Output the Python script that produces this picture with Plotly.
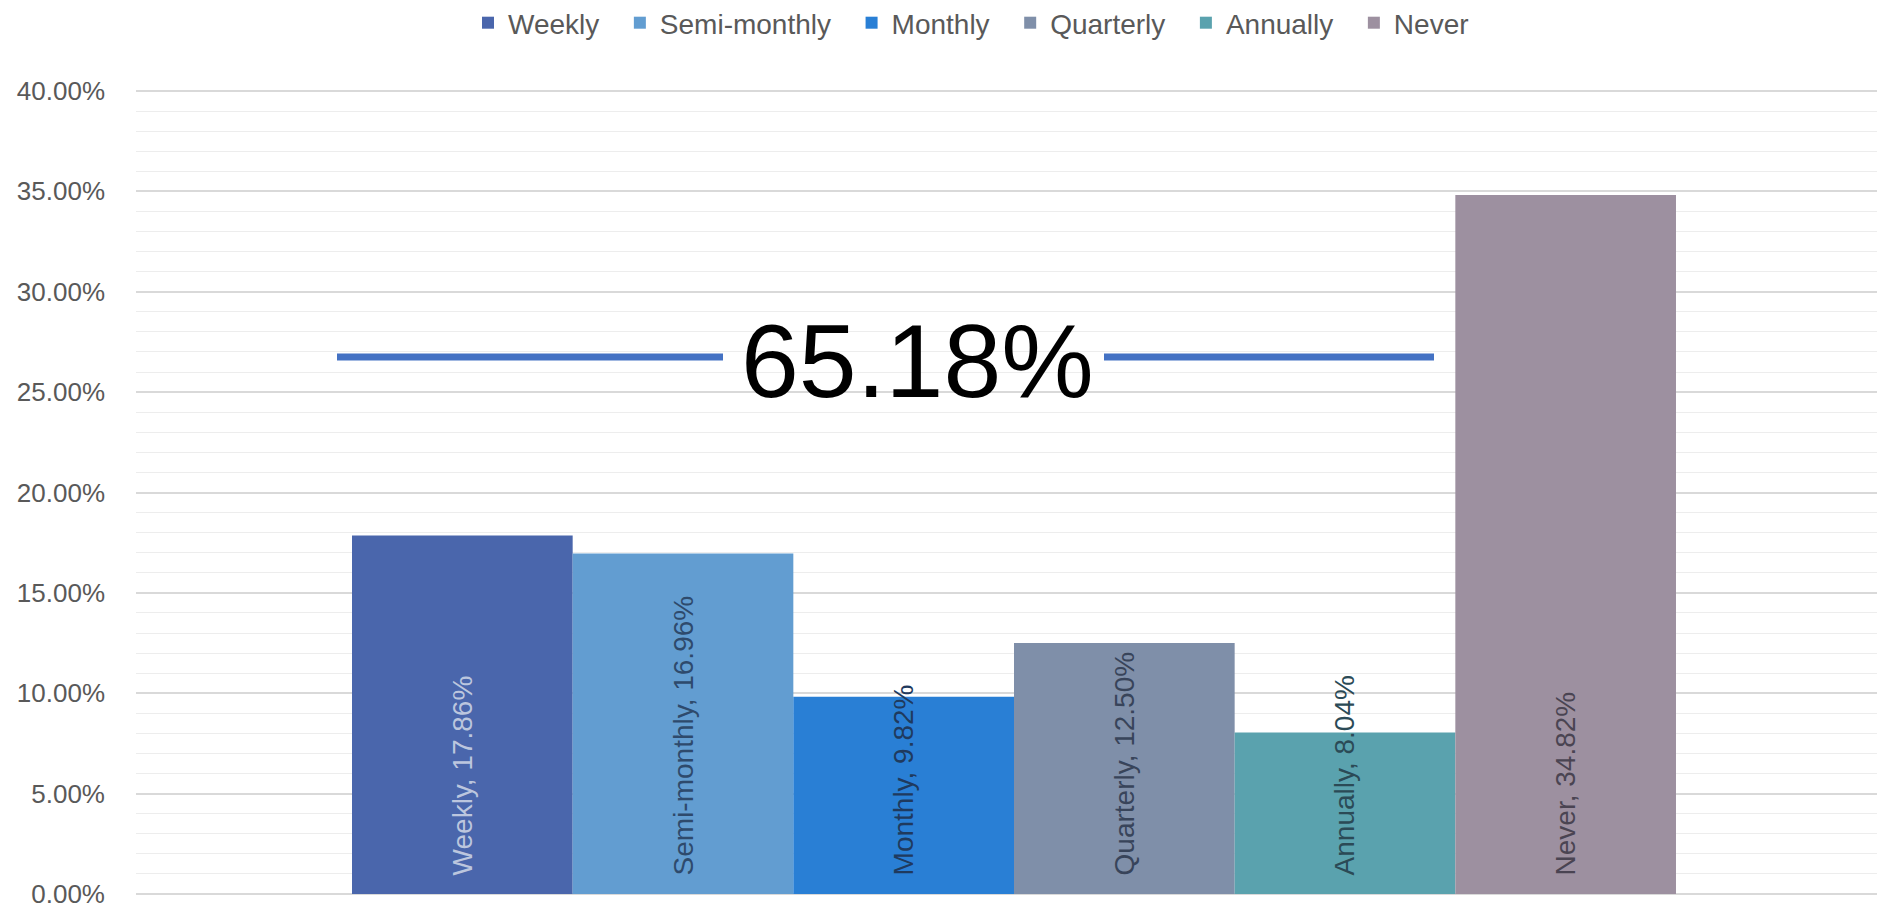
import plotly.graph_objects as go

categories = ["Weekly", "Semi-monthly", "Monthly", "Quarterly", "Annually", "Never"]
values = [0.1786, 0.1696, 0.0982, 0.1250, 0.0804, 0.3482]
bar_colors = ["#4A66AC", "#629DD1", "#297FD5", "#7F8FA9", "#5AA2AE", "#9D90A0"]
label_colors = ["#BCC6DE", "#2E4A6C", "#1F3A5E", "#38445A", "#2B4A56", "#4A4452"]
tick_values = [0, 0.05, 0.1, 0.15, 0.2, 0.25, 0.3, 0.35, 0.4]
group = ["All"]

highlight_total = sum(values[:5])
highlight_text = f"{highlight_total:.2%}"
highlight_level = 0.2675

FONT = "Liberation Sans, Arial, sans-serif"
NB = "\u00a0"

fig = go.Figure()
for name, v, c, lc in zip(categories, values, bar_colors, label_colors):
    fig.add_trace(go.Bar(
        name=name + NB + NB,
        x=group,
        y=[v],
        marker=dict(color=c, line=dict(width=0)),
        text=[f"{NB}{NB}{name}, {v:.2%}"],
        textposition="inside",
        insidetextanchor="start",
        textangle=-90,
        constraintext="none",
        cliponaxis=False,
        textfont=dict(family=FONT, size=28, color=lc),
        hoverinfo="skip",
    ))

# page body has an 8px margin; compensate so the plot lands on the reference pixels
OFF = 8
PAD = 0.0015  # small range padding so edge gridlines (0% / 40%) are drawn
PX_PER_UNIT = 805 / 0.4
W, H = 1885 - OFF, 909 - OFF
L, R = 136 - OFF, 0
T = round(91 - OFF - PAD * PX_PER_UNIT)
B = round(13 - PAD * PX_PER_UNIT)
plot_w = W - L - R

def px2paper(px):
    return (px - OFF - L) / plot_w

shapes = [
    dict(type="line", xref="paper", yref="y", x0=px2paper(337), x1=px2paper(723),
         y0=highlight_level, y1=highlight_level, line=dict(color="#4472C4", width=7)),
    dict(type="line", xref="paper", yref="y", x0=px2paper(1104), x1=px2paper(1434),
         y0=highlight_level, y1=highlight_level, line=dict(color="#4472C4", width=7)),
]

fig.update_layout(
    width=W, height=H,
    margin=dict(l=L, r=R, t=T, b=B),
    paper_bgcolor="white", plot_bgcolor="white",
    barmode="group", bargap=0.243, bargroupgap=0,
    font=dict(family=FONT, color="#595959"),
    showlegend=True,
    legend=dict(orientation="h", xref="container", yref="container",
                x=(979 - OFF) / W, xanchor="center", y=1 - (23 - OFF) / H, yanchor="middle",
                font=dict(family=FONT, size=28, color="#595959"),
                itemclick=False, itemdoubleclick=False, traceorder="normal"),
    xaxis=dict(type="category", range=[-0.502, 0.498], showticklabels=False, showgrid=False,
               zeroline=False, showline=False, ticks=""),
    yaxis=dict(range=[-PAD, 0.4 + PAD], tickvals=tick_values,
               tickformat=".2%", showgrid=True,
               gridcolor="#D9D9D9", gridwidth=1.5, zeroline=False, showline=False,
               ticks="", ticklabelstandoff=30, ticklabeloverflow="allow",
               tickfont=dict(family=FONT, size=26, color="#595959"),
               minor=dict(dtick=0.01, tick0=0, showgrid=True, gridcolor="#EDEDED", gridwidth=1)),
    shapes=shapes,
    annotations=[dict(text=highlight_text, xref="paper", yref="y", x=px2paper(917),
                      y=highlight_level, yshift=-4, xanchor="center", yanchor="middle",
                      showarrow=False,
                      font=dict(family=FONT, size=104, color="#000000"))],
)

fig.write_html("out.html")
